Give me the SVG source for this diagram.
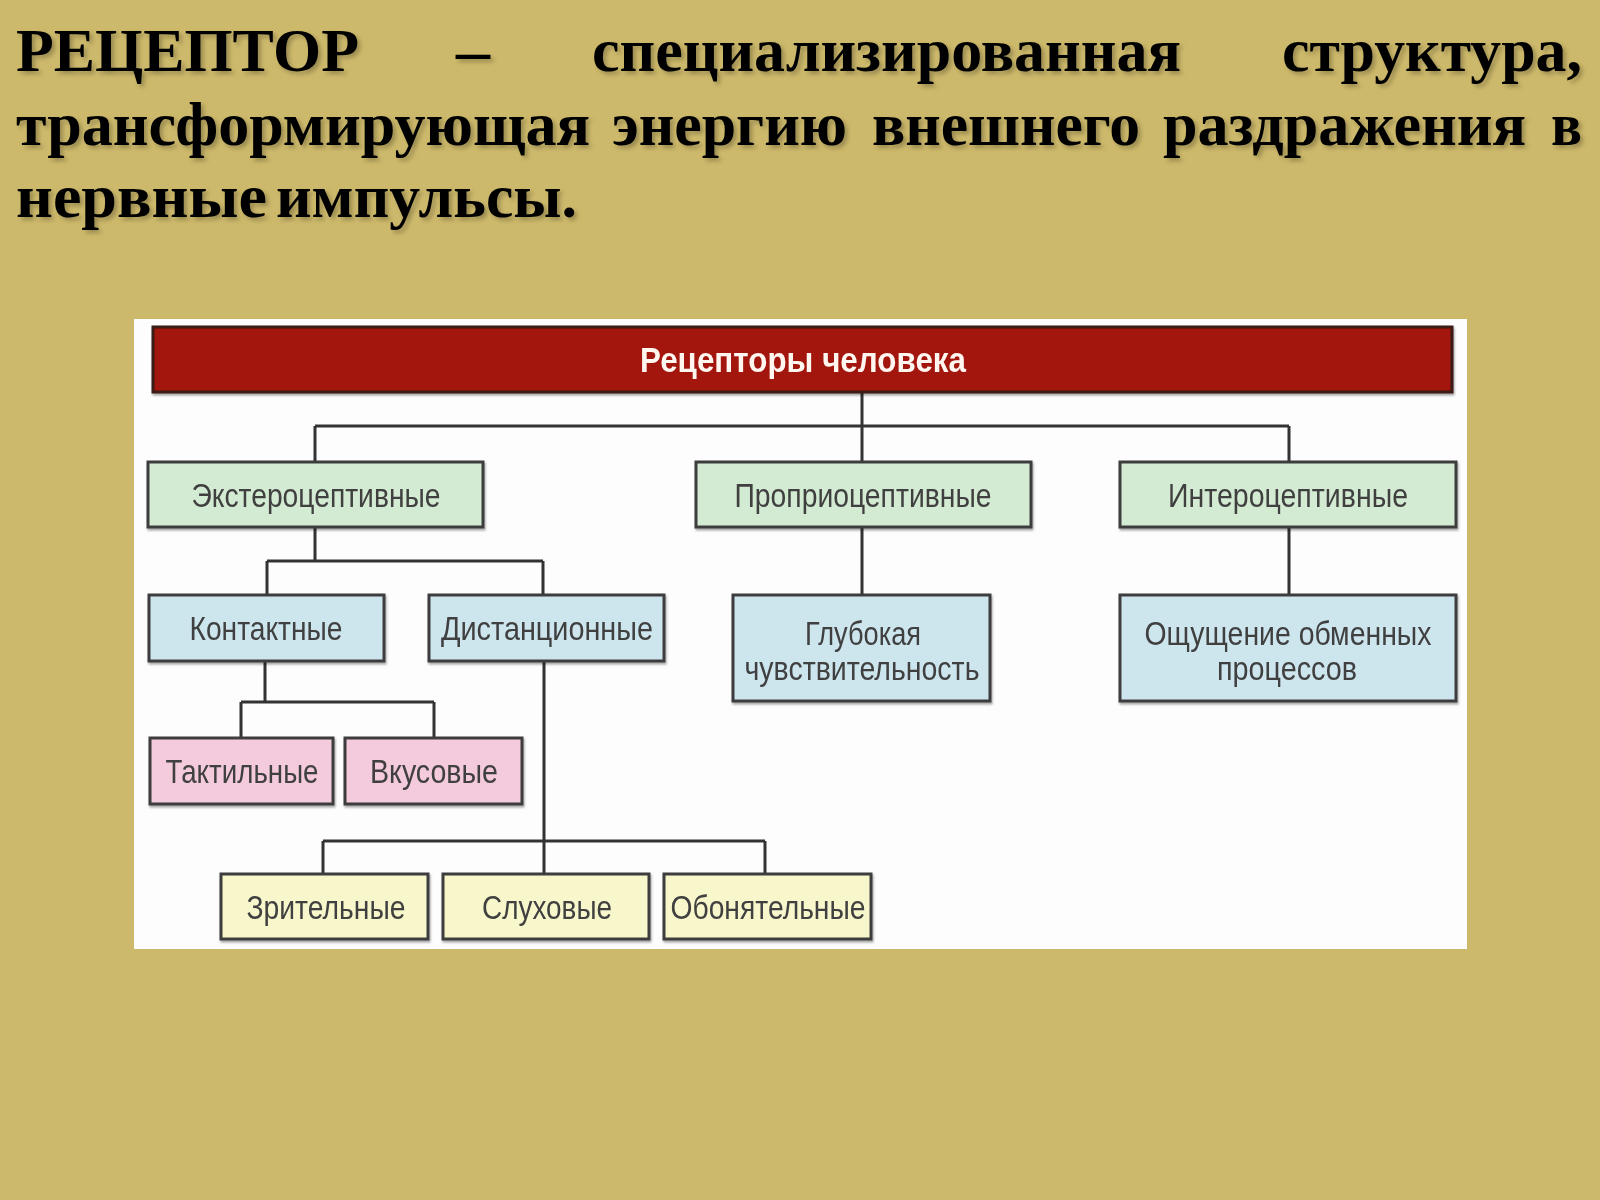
<svg xmlns="http://www.w3.org/2000/svg" width="1600" height="1200" viewBox="0 0 1600 1200">
<defs>
<filter id="ts" x="-5%" y="-20%" width="110%" height="140%"><feDropShadow dx="3" dy="3" stdDeviation="2" flood-color="#000" flood-opacity="0.25"/></filter>
<filter id="bs" x="-5%" y="-10%" width="110%" height="125%"><feDropShadow dx="1" dy="2" stdDeviation="1.2" flood-color="#000" flood-opacity="0.35"/></filter>
</defs>
<style>
.h{font-family:"Liberation Serif","Times New Roman",serif;font-weight:bold;font-size:62px;fill:#000}
.box{stroke:#3c3c3c;stroke-width:3}
.g{fill:#d3ebd2}.b{fill:#cde6ee}.p{fill:#f4cadd}.y{fill:#f8f7cc}
.t{font-family:"Liberation Sans",Arial,sans-serif;font-size:34px;fill:#404040;text-anchor:middle}
.c{fill:none;stroke:#333;stroke-width:3}
</style>
<rect width="1600" height="1200" fill="#cdb96b"/>
<g id="heading" filter="url(#ts)">
<text class="h" y="71"><tspan x="16" textLength="343" lengthAdjust="spacingAndGlyphs">РЕЦЕПТОР</tspan><tspan x="456" textLength="34" lengthAdjust="spacingAndGlyphs">–</tspan><tspan x="592" textLength="589" lengthAdjust="spacingAndGlyphs">специализированная</tspan><tspan x="1282" textLength="300" lengthAdjust="spacingAndGlyphs">структура,</tspan></text>
<text class="h" y="145"><tspan x="16" textLength="574" lengthAdjust="spacingAndGlyphs">трансформирующая</tspan><tspan x="612" textLength="235" lengthAdjust="spacingAndGlyphs">энергию</tspan><tspan x="872" textLength="268" lengthAdjust="spacingAndGlyphs">внешнего</tspan><tspan x="1163" textLength="363" lengthAdjust="spacingAndGlyphs">раздражения</tspan><tspan x="1551" textLength="31" lengthAdjust="spacingAndGlyphs">в</tspan></text>
<text class="h" y="217"><tspan x="16" textLength="251" lengthAdjust="spacingAndGlyphs">нервные</tspan><tspan x="276" textLength="301" lengthAdjust="spacingAndGlyphs">импульсы.</tspan></text>
</g>
<rect id="panel" x="134" y="319" width="1333" height="630" fill="#fdfdfd"/>
<g id="connectors">
<path class="c" d="M862 392V462M315 426H1289M315 426V462M1289 426V462"/>
<path class="c" d="M315 527V561M267 561H543M267 561V595M543 561V595"/>
<path class="c" d="M862 527V595M1289 527V595"/>
<path class="c" d="M265 661V702M241 702H434M241 702V738M434 702V738"/>
<path class="c" d="M544 661V874M323 841H765M323 841V874M765 841V874"/>
</g>
<g id="root" filter="url(#bs)">
<rect x="153" y="327" width="1299" height="65" fill="#a2120b" stroke="#3a1a14" stroke-width="3"/>
<text x="803" y="372" text-anchor="middle" font-family="Liberation Sans,Arial,sans-serif" font-weight="bold" font-size="35" fill="#fff6f0" textLength="326" lengthAdjust="spacingAndGlyphs">Рецепторы человека</text>
</g>
<g id="extero" filter="url(#bs)"><rect class="box g" x="148" y="462" width="335" height="65"/><text class="t" x="316" y="507" textLength="249" lengthAdjust="spacingAndGlyphs">Экстероцептивные</text></g>
<g id="proprio" filter="url(#bs)"><rect class="box g" x="696" y="462" width="335" height="65"/><text class="t" x="863" y="507" textLength="257" lengthAdjust="spacingAndGlyphs">Проприоцептивные</text></g>
<g id="intero" filter="url(#bs)"><rect class="box g" x="1120" y="462" width="336" height="65"/><text class="t" x="1288" y="507" textLength="240" lengthAdjust="spacingAndGlyphs">Интероцептивные</text></g>
<g id="contact" filter="url(#bs)"><rect class="box b" x="149" y="595" width="235" height="66"/><text class="t" x="266" y="640" textLength="153" lengthAdjust="spacingAndGlyphs">Контактные</text></g>
<g id="distant" filter="url(#bs)"><rect class="box b" x="429" y="595" width="235" height="66"/><text class="t" x="547" y="640" textLength="212" lengthAdjust="spacingAndGlyphs">Дистанционные</text></g>
<g id="deep" filter="url(#bs)"><rect class="box b" x="733" y="595" width="257" height="106"/><text class="t" x="863" y="645" textLength="116" lengthAdjust="spacingAndGlyphs">Глубокая</text><text class="t" x="862" y="680" textLength="235" lengthAdjust="spacingAndGlyphs">чувствительность</text></g>
<g id="metab" filter="url(#bs)"><rect class="box b" x="1120" y="595" width="336" height="106"/><text class="t" x="1288" y="645" textLength="287" lengthAdjust="spacingAndGlyphs">Ощущение обменных</text><text class="t" x="1287" y="680" textLength="140" lengthAdjust="spacingAndGlyphs">процессов</text></g>
<g id="tactile" filter="url(#bs)"><rect class="box p" x="150" y="738" width="183" height="66"/><text class="t" x="242" y="783" textLength="153" lengthAdjust="spacingAndGlyphs">Тактильные</text></g>
<g id="taste" filter="url(#bs)"><rect class="box p" x="345" y="738" width="177" height="66"/><text class="t" x="434" y="783" textLength="128" lengthAdjust="spacingAndGlyphs">Вкусовые</text></g>
<g id="visual" filter="url(#bs)"><rect class="box y" x="221" y="874" width="207" height="65"/><text class="t" x="326" y="919" textLength="159" lengthAdjust="spacingAndGlyphs">Зрительные</text></g>
<g id="auditory" filter="url(#bs)"><rect class="box y" x="443" y="874" width="206" height="65"/><text class="t" x="547" y="919" textLength="130" lengthAdjust="spacingAndGlyphs">Слуховые</text></g>
<g id="olfactory" filter="url(#bs)"><rect class="box y" x="664" y="874" width="207" height="65"/><text class="t" x="768" y="919" textLength="195" lengthAdjust="spacingAndGlyphs">Обонятельные</text></g>
</svg>
